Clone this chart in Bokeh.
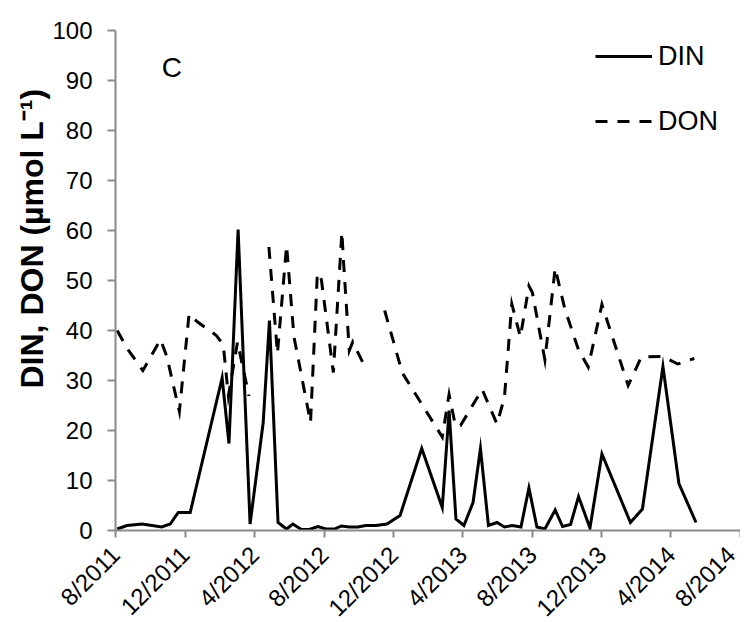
import math
import pandas as pd
from bokeh.plotting import figure
from bokeh.models import (Range1d, FixedTicker, Legend, LegendItem, Label,
                          ColumnDataSource, Title)
from bokeh.embed import file_html
from bokeh.resources import INLINE

nan = float("nan")

# ---- data -------------------------------------------------------------
din_dates = ["2011-08-04", "2011-08-21", "2011-09-17", "2011-10-21", "2011-11-05",
             "2011-11-19", "2011-12-10", "2012-02-04", "2012-02-16", "2012-03-03",
             "2012-03-24", "2012-04-16", "2012-04-27", "2012-05-12", "2012-05-27",
             "2012-06-07", "2012-06-22", "2012-07-06", "2012-07-21", "2012-08-04",
             "2012-08-19", "2012-08-31", "2012-09-14", "2012-09-29", "2012-10-13",
             "2012-10-31", "2012-11-19", "2012-12-12", "2013-01-19", "2013-02-24",
             "2013-03-08", "2013-03-20", "2013-04-03", "2013-04-19", "2013-05-02",
             "2013-05-16", "2013-05-31", "2013-06-13", "2013-06-27", "2013-07-12",
             "2013-07-26", "2013-08-09", "2013-08-23", "2013-09-10", "2013-09-23",
             "2013-10-07", "2013-10-21", "2013-11-10", "2013-12-01", "2014-01-20",
             "2014-02-10", "2014-03-18", "2014-04-15", "2014-05-15"]
din_values = [0.3, 1.0, 1.3, 0.7, 1.3, 3.6, 3.6, 30.5, 17.4, 60.2,
              1.3, 21.6, 42.0, 1.6, 0.3, 1.3, 0.2, 0.2, 0.8, 0.3,
              0.3, 0.9, 0.7, 0.7, 1.0, 1.0, 1.3, 3.0, 16.4, 4.6,
              24.0, 2.3, 1.0, 5.6, 16.4, 1.0, 1.6, 0.7, 1.0, 0.7,
              8.5, 0.7, 0.3, 4.1, 0.8, 1.2, 6.8, 0.5, 15.3, 1.6,
              4.3, 32.8, 9.4, 1.6]

don_dates = ["2011-08-04", "2011-08-22", "2011-09-18", "2011-10-19", "2011-10-30",
             "2011-11-21", "2011-12-08", "2011-12-23", "2012-01-25", "2012-02-06",
             "2012-02-15", "2012-03-02", "2012-03-22", "2012-04-05", "2012-04-26",
             "2012-05-11", "2012-05-27", "2012-06-09", "2012-07-08", "2012-07-20",
             "2012-07-27", "2012-08-17", "2012-09-01", "2012-09-04", "2012-09-14",
             "2012-09-20", "2012-10-12", "2012-10-25", "2012-11-15", "2012-12-16",
             "2013-02-24", "2013-03-08", "2013-03-19", "2013-03-28", "2013-05-05",
             "2013-05-31", "2013-06-13", "2013-06-26", "2013-07-11", "2013-07-26",
             "2013-08-01", "2013-08-23", "2013-09-10", "2013-09-27", "2013-10-21",
             "2013-11-07", "2013-12-01", "2014-01-16", "2014-02-08", "2014-03-18",
             "2014-04-13", "2014-05-12"]
don_values = [40.0, 36.3, 32.0, 38.2, 34.8, 23.8, 43.3, 41.7, 39.0, 37.1,
              26.9, 37.7, 26.9, nan, 56.7, 35.4, 57.0, 38.7, 21.6, 51.5,
              50.2, 31.6, 59.7, 53.5, 36.0, 37.7, 32.6, nan, 44.0, 31.5,
              18.7, 27.2, 21.0, 21.0, 28.2, 21.3, 26.6, 45.3, 38.7, 48.9,
              47.6, 34.1, 52.5, 44.3, 36.1, 32.7, 45.2, 29.0, 34.7, 34.8,
              33.3, 34.4]

x_tick_dates = ["2011-08-01", "2011-12-01", "2012-04-01", "2012-08-01", "2012-12-01",
                "2013-04-01", "2013-08-01", "2013-12-01", "2014-04-01", "2014-08-01"]
x_tick_labels = ["8/2011", "12/2011", "4/2012", "8/2012", "12/2012",
                 "4/2013", "8/2013", "12/2013", "4/2014", "8/2014"]
y_ticks = [0, 10, 20, 30, 40, 50, 60, 70, 80, 90, 100]

panel_letter = "C"
y_title = "DIN, DON (µmol L⁻¹)"

# ---- layout ----------------------------------------------------------
W, H = 740, 633
LEFT, RIGHT, TOP, BOTTOM = 115, 0, 30, 96
FRAME_H = H - TOP - BOTTOM
FONT = "Liberation Sans"


def to_ms(d):
    return pd.Timestamp(d).value / 1e6


x0, x1 = to_ms(x_tick_dates[0]), to_ms(x_tick_dates[-1])

din_src = ColumnDataSource(dict(x=pd.to_datetime(din_dates), y=din_values))
don_src = ColumnDataSource(dict(x=pd.to_datetime(don_dates), y=don_values))

p = figure(width=W, height=H, x_axis_type="datetime",
           output_backend="svg", toolbar_location=None,
           x_range=Range1d(x0, x1), y_range=Range1d(0, 100),
           min_border_left=LEFT, min_border_right=RIGHT,
           min_border_top=TOP, min_border_bottom=BOTTOM)
p.outline_line_color = None
p.grid.visible = False
p.background_fill_color = "white"
p.border_fill_color = "white"

r_din = p.line("x", "y", source=din_src, line_color="black", line_width=3,
               line_join="miter")
r_don = p.line("x", "y", source=don_src, line_color="black", line_width=3,
               line_dash="12 10", line_join="miter")

tick_ms = [to_ms(d) for d in x_tick_dates]
xa = p.xaxis[0]
xa.ticker = FixedTicker(ticks=tick_ms)
xa.major_label_overrides = {t: lab for t, lab in zip(tick_ms, x_tick_labels)}
xa.major_label_orientation = math.pi / 4
xa.minor_tick_line_color = None
xa.major_tick_in = 0
xa.major_tick_out = 7
xa.axis_line_color = "#8a8a8a"
xa.major_tick_line_color = "#8a8a8a"
xa.axis_line_width = 2
xa.major_tick_line_width = 2
xa.major_label_text_font = FONT
xa.major_label_text_font_size = "24px"
xa.major_label_text_color = "black"
xa.major_label_standoff = 13

ya = p.yaxis[0]
ya.ticker = FixedTicker(ticks=y_ticks)
ya.minor_tick_line_color = None
ya.major_tick_in = 0
ya.major_tick_out = 8
ya.axis_line_color = "#8a8a8a"
ya.major_tick_line_color = "#8a8a8a"
ya.axis_line_width = 2
ya.major_tick_line_width = 2
ya.major_label_text_font = FONT
ya.major_label_text_font_size = "24px"
ya.major_label_text_color = "black"
ya.major_label_standoff = 15

# y-axis title as a side title, anchored from the bottom of the frame so that
# it sits above the frame centre as in the original
ytitle = Title(text=y_title, align="left", offset=142,
               text_font=FONT, text_font_style="bold", text_font_size="32px",
               text_color="black", standoff=0)
p.add_layout(ytitle, "left")

ITEM_H, PAD, GAP = 32, 5, 33
LEG_H = 2 * PAD + 2 * ITEM_H + GAP
legend = Legend(items=[LegendItem(label="DIN", renderers=[r_din]),
                       LegendItem(label="DON", renderers=[r_don])],
                location=(480, FRAME_H - 7 - LEG_H))
legend.border_line_color = None
legend.background_fill_alpha = 0
legend.glyph_width = 57
legend.glyph_height = ITEM_H
legend.label_height = ITEM_H
legend.spacing = GAP
legend.padding = PAD
legend.label_standoff = 6
legend.label_text_font = FONT
legend.label_text_font_size = "27px"
legend.label_text_color = "black"
p.add_layout(legend)

p.add_layout(Label(x=to_ms("2011-11-08"), y=92.7, text=panel_letter,
                   text_font=FONT, text_font_size="28px", text_color="black",
                   text_align="center", text_baseline="middle"))

open("out.html", "w").write(file_html(p, INLINE))
